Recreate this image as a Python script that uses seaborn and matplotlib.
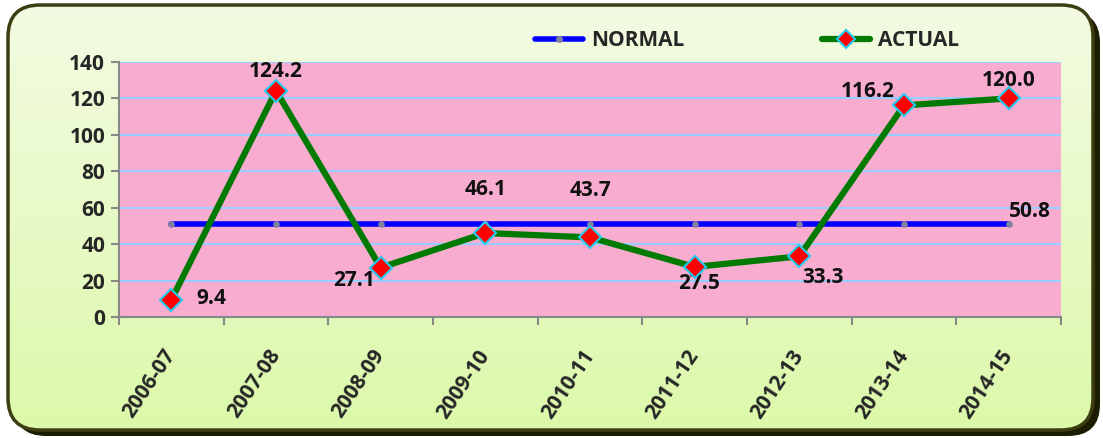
import matplotlib
matplotlib.use("Agg")
import matplotlib.pyplot as plt
import matplotlib.transforms as mtransforms
import seaborn as sns
import numpy as np
import pandas as pd
from matplotlib.patches import FancyBboxPatch
from matplotlib.lines import Line2D
from matplotlib.colors import LinearSegmentedColormap

years = ["2006-07", "2007-08", "2008-09", "2009-10", "2010-11",
         "2011-12", "2012-13", "2013-14", "2014-15"]
actual = [9.4, 124.2, 27.1, 46.1, 43.7, 27.5, 33.3, 116.2, 120.0]
normal = [50.8] * 9
yticks = [0, 20, 40, 60, 80, 100, 120, 140]

df = pd.DataFrame({"x": np.arange(len(years)), "year": years,
                   "NORMAL": normal, "ACTUAL": actual})

sns.set_theme(style="white")
plt.rcParams["font.family"] = ["Open Sans", "DejaVu Sans"]
plt.rcParams["font.weight"] = "bold"
FS = 15

W, H = 1103, 438
fig = plt.figure(figsize=(W / 100, H / 100), dpi=100)

# background: rounded box in pixel coordinates
bgax = fig.add_axes([0, 0, 1, 1], zorder=-2)
bgax.axis("off")
bgax.set_xlim(0, W)
bgax.set_ylim(H, 0)
shadow = FancyBboxPatch((14, 11), 1086, 425,
                        boxstyle="round,pad=0,rounding_size=32",
                        facecolor="#1c1c00", edgecolor="none", zorder=0)
bgax.add_patch(shadow)
box = FancyBboxPatch((8, 5), 1085, 425,
                     boxstyle="round,pad=0,rounding_size=32",
                     facecolor="none", edgecolor="#3d3d12", linewidth=2.5,
                     zorder=2)
cmap = LinearSegmentedColormap.from_list("g", ["#f3fbe3", "#dcf9aa"])
grad = np.linspace(0, 1, 256).reshape(-1, 1)
im = bgax.imshow(grad, extent=[8, 1093, 430, 5], aspect="auto", cmap=cmap,
                 zorder=1)
bgax.add_patch(box)
im.set_clip_path(box)
bgax.set_xlim(0, W)
bgax.set_ylim(H, 0)

ax = fig.add_axes([119 / W, 1 - 317 / H, (1061 - 119) / W, (317 - 62) / H])
ax.set_facecolor("#f8accf")

sns.lineplot(data=df, x="x", y="NORMAL", ax=ax, color="#0000ff", linewidth=4,
             marker="o", markersize=4, markerfacecolor="#8080a0",
             markeredgecolor="#8080a0", zorder=3, label="NORMAL")
sns.lineplot(data=df, x="x", y="ACTUAL", ax=ax, color="#007a00", linewidth=4.5,
             marker="D", markersize=11, markerfacecolor="#ff0000",
             markeredgecolor="#22ccee", markeredgewidth=1.5, zorder=4,
             label="ACTUAL")

ax.set_xlim(-0.5, len(years) - 0.5)
ax.set_ylim(0, 140)
ax.set_yticks(yticks)
ax.set_yticklabels([str(t) for t in yticks], fontsize=FS, fontweight="bold")
ax.yaxis.grid(True, color="#99ccff", linewidth=1.5)
ax.set_axisbelow(True)
ax.set_xticks(np.arange(len(years)))
ax.set_xticklabels(years, rotation=56, ha="right", va="center",
                   rotation_mode="anchor", fontsize=FS, fontweight="bold")
shift = mtransforms.ScaledTranslation(-7 / 100, 0, fig.dpi_scale_trans)
for lab in ax.get_xticklabels():
    lab.set_transform(lab.get_transform() + shift)
ax.set_xticks(np.arange(len(years) + 1) - 0.5, minor=True)
ax.tick_params(axis="x", which="major", length=0, pad=25)
ax.tick_params(axis="x", which="minor", length=6, color="#888888", width=1.5,
               direction="out", bottom=True)
ax.tick_params(axis="y", length=6, color="#888888", width=1.5, direction="out",
               left=True, pad=4)
ax.set_xlabel("")
ax.set_ylabel("")
for side in ["top", "right"]:
    ax.spines[side].set_visible(False)
for side in ["left", "bottom"]:
    ax.spines[side].set_color("#888888")
    ax.spines[side].set_linewidth(1.5)

# data labels (offsets in points)
offsets = [(29, 1), (0, 14), (-19, -9), (0, 31), (0, 34),
           (3, -12), (17, -15), (-26, 10), (0, 13)]
for i, (v, off) in enumerate(zip(actual, offsets)):
    ax.annotate(f"{v:.1f}", (i, v), xytext=off, textcoords="offset points",
                ha="center", va="center", fontsize=FS, fontweight="bold",
                color="#111111")
ax.annotate(f"{normal[-1]:.1f}", (len(years) - 1, normal[-1]), xytext=(15, 9),
            textcoords="offset points", ha="center", va="center",
            fontsize=FS, fontweight="bold", color="#111111")

ax.legend_.remove()
h1 = Line2D([], [], color="#0000ff", linewidth=4, marker="o", markersize=4,
            markerfacecolor="#8080a0", markeredgecolor="#8080a0")
h2 = Line2D([], [], color="#007a00", linewidth=4.5, marker="D", markersize=9,
            markerfacecolor="#ff0000", markeredgecolor="#22ccee",
            markeredgewidth=1.5)
fig.legend([h1, h2], ["NORMAL", "ACTUAL"], loc="center", ncol=2,
           bbox_to_anchor=(0.677, 0.908), frameon=False,
           prop={"weight": "bold", "size": FS}, columnspacing=6.6,
           handlelength=2.3, handletextpad=0.4)

fig.savefig("out.png", dpi=100)
